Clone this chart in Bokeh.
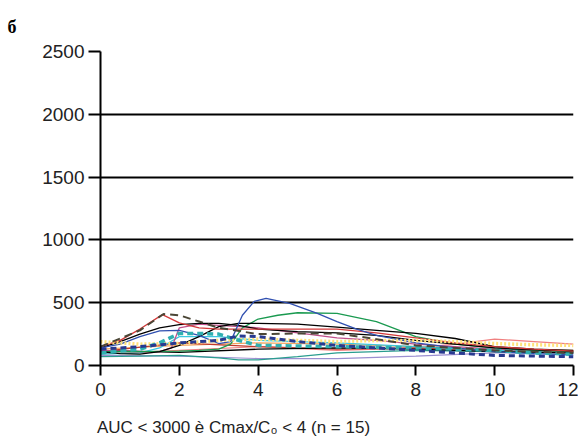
import html
from bokeh.plotting import figure
from bokeh.models import Range1d, FixedTicker, Title, Div
from bokeh.layouts import column
from bokeh.embed import file_html
from bokeh.resources import INLINE

# ---- data (time in h, concentration) ----
x_ticks = [0, 2, 4, 6, 8, 10, 12]
y_ticks = [0, 500, 1000, 1500, 2000, 2500]

t_red = [0, 0.5, 1, 1.57, 2, 2.5, 3, 4, 5, 6, 7, 8, 9, 10, 11, 12]
v_red = [150, 200, 290, 405, 340, 300, 290, 290, 290, 290, 260, 220, 180, 150, 130, 115]

t_olive = [0, 1, 1.6, 2, 2.5, 3, 4, 5, 6, 7, 8, 10, 12]
v_olive = [150, 280, 410, 400, 350, 300, 250, 255, 255, 210, 160, 120, 100]

t_blue = [0, 0.5, 1, 1.5, 2, 2.5, 3, 3.3, 3.6, 3.9, 4.2, 4.8, 5.5, 6, 6.5, 7, 8, 9, 10, 11, 12]
v_blue = [140, 170, 230, 275, 280, 240, 175, 190, 400, 510, 535, 495, 415, 350, 290, 240, 180, 140, 110, 95, 85]

t_green = [0, 1, 2, 2.5, 3, 3.3, 3.6, 4, 4.5, 5, 6, 7, 8, 9, 10, 11, 12]
v_green = [110, 110, 115, 120, 130, 170, 300, 370, 400, 420, 415, 350, 230, 170, 140, 120, 110]

t_blackA = [0, 0.5, 1, 1.5, 2, 2.5, 3, 3.5, 4, 5, 6, 7, 8, 9, 10, 11, 12]
v_blackA = [140, 190, 250, 300, 325, 335, 335, 320, 290, 270, 260, 240, 200, 170, 140, 125, 115]

t_blackB = [0, 0.5, 1, 1.5, 2, 2.5, 3, 3.5, 4, 5, 6, 7, 8, 9, 10, 11, 12]
v_blackB = [110, 95, 90, 110, 160, 230, 310, 335, 335, 330, 305, 280, 255, 215, 150, 130, 120]

t_blackC = [0, 2, 4, 6, 8, 10, 12]
v_blackC = [120, 105, 130, 140, 130, 110, 100]

t_pink = [0, 1, 1.5, 1.8, 2, 2.5, 3, 4, 5, 6, 7, 8, 9, 10, 11, 12]
v_pink = [120, 110, 110, 140, 300, 330, 320, 300, 260, 220, 200, 170, 150, 130, 120, 110]

t_teal_d = [0, 1, 1.5, 2, 2.5, 3, 3.5, 4, 5, 6, 8, 10, 11, 12]
v_teal_d = [100, 130, 180, 255, 255, 250, 200, 160, 155, 150, 140, 120, 100, 90]

t_yellow = [0, 1, 2, 3, 4, 5, 6, 7, 8, 9, 10, 11, 12]
v_yellow = [190, 170, 175, 200, 210, 200, 190, 200, 200, 190, 175, 165, 160]

t_navy = [0, 1, 2, 3, 3.5, 4, 5, 6, 7, 8, 9, 10, 11, 12]
v_navy = [130, 150, 180, 200, 235, 230, 190, 160, 140, 120, 100, 80, 75, 70]

t_purple = [0, 2, 4, 6, 8, 10, 12]
v_purple = [80, 75, 55, 55, 75, 100, 100]

t_teal = [0, 1, 2, 3, 3.5, 4, 5, 6, 8, 10, 12]
v_teal = [70, 75, 80, 60, 45, 45, 70, 100, 120, 110, 100]

t_salmon = [0, 2, 4, 6, 8, 9, 10, 11, 12]
v_salmon = [90, 120, 150, 120, 140, 170, 210, 190, 170]

t_cyan = [0, 1, 1.5, 2, 3, 4, 5, 6, 8, 10, 12]
v_cyan = [90, 100, 140, 230, 230, 200, 190, 180, 150, 120, 100]

t_orange = [0, 2, 4, 6, 8, 10, 12]
v_orange = [130, 160, 180, 170, 150, 130, 120]

t_darkred = [0, 2, 4, 6, 8, 10, 12]
v_darkred = [110, 180, 150, 130, 140, 120, 110]

x_label_text = "AUC < 3000 è Cmax/C₀ < 4 (n = 15)"
panel_text = "б"

FONT = "Liberation Sans"

p = figure(width=578, height=405, output_backend="svg", toolbar_location=None,
           x_range=Range1d(0, 12), y_range=Range1d(0, 2500),
           min_border_left=100, min_border_right=5, min_border_top=51, min_border_bottom=40)
p.outline_line_color = None
p.background_fill_color = "white"
p.border_fill_color = "white"

# grid
p.xgrid.grid_line_color = None
p.ygrid.grid_line_color = "black"
p.ygrid.grid_line_width = 2
p.ygrid.ticker = FixedTicker(ticks=y_ticks)

for ax, ticks in ((p.xaxis[0], x_ticks), (p.yaxis[0], y_ticks)):
    ax.ticker = FixedTicker(ticks=ticks)
    ax.axis_line_color = "black"
    ax.axis_line_width = 2
    ax.major_tick_line_color = "black"
    ax.major_tick_line_width = 2
    ax.major_tick_in = 0
    ax.minor_tick_line_color = None
    ax.major_label_text_font = FONT
    ax.major_label_text_font_size = "19px"
    ax.major_label_text_color = "#222222"
p.xaxis.major_tick_out = 10
p.yaxis.major_tick_out = 12
p.xaxis.major_label_standoff = 7
p.yaxis.major_label_standoff = 4

series = [
    (t_purple, v_purple, "#9b8fd0", 1.2, "solid"),
    (t_teal, v_teal, "#2a9d8f", 1.2, "solid"),
    (t_salmon, v_salmon, "#f08080", 1.2, "solid"),
    (t_orange, v_orange, "#f4a460", 1.2, "solid"),
    (t_darkred, v_darkred, "#c0392b", 1.2, "solid"),
    (t_cyan, v_cyan, "#3cc8e0", 1.2, "solid"),
    (t_blackC, v_blackC, "black", 1.3, "solid"),
    (t_pink, v_pink, "#c0508a", 1.3, "solid"),
    (t_green, v_green, "#1a9a50", 1.3, "solid"),
    (t_blackA, v_blackA, "black", 1.3, "solid"),
    (t_blackB, v_blackB, "black", 1.3, "solid"),
    (t_red, v_red, "#d23a3a", 1.3, "solid"),
    (t_blue, v_blue, "#3050b0", 1.3, "solid"),
    (t_yellow, v_yellow, "#ffe27a", 3.5, "2 2"),
    (t_teal_d, v_teal_d, "#30b0b0", 3.5, "6 4"),
    (t_navy, v_navy, "#283a90", 3.0, "6 4"),
    (t_olive, v_olive, "#4a4636", 2.0, "8 5"),
]
for t, v, c, w, d in series:
    p.line(t, v, line_color=c, line_width=w, line_dash=d)

lab = Title(text=panel_text, align="left", offset=-93, text_font="Liberation Serif",
            text_font_size="18px", text_font_style="bold", text_color="black",
            standoff=29)
p.add_layout(lab, "above")

# caption below the chart, left aligned as in the reference
caption_html = ('<div style="padding:13px 0 0 97px; margin:0; font-family:\'Liberation Sans\', Arial, sans-serif; '
                'font-size:17px; line-height:20px; color:#222222; white-space:nowrap;">'
                + html.escape(x_label_text) + '</div>')
cap = Div(text=caption_html, width=578, height=38, margin=0)

layout = column(p, cap, spacing=0)

open("out.html", "w").write(file_html(layout, INLINE))
